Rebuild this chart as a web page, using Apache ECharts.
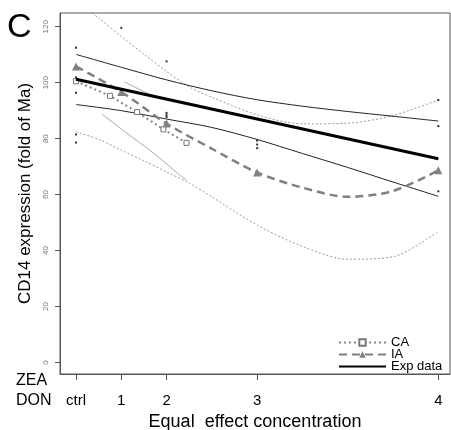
<!DOCTYPE html>
<html><head><meta charset="utf-8">
<script src="https://cdn.jsdelivr.net/npm/echarts@6/dist/echarts.min.js"></script>
<style>html,body{margin:0;padding:0;background:#fff}#c{width:451px;height:430px}</style>
</head><body><div id="c"></div>
<script>
// Axis ticks
const xTickValues = [0, 1, 2, 4, 8];
const xTickLabels = ['ctrl', '1', '2', '3', '4'];
const yTickValues = [0, 20, 40, 60, 80, 100, 120];

// Observed data points
const obsX = [0, 0, 0, 0, 0, 1, 2, 2, 2, 2, 4, 4, 4, 8, 8, 8];
const obsY = [112.5, 101.9, 96.4, 81.5, 78.6, 119.6, 107.6, 89.2, 88.4, 87.7, 79.3, 77.9, 76.6, 93.8, 84.5, 61.2];

// Exp data regression line and band
const expX = [0, 8];
const expY = [101.2, 72.8];
const bandX = [0, 1, 2, 3, 4, 5, 6, 7, 8];
const expUpperY = [110.1, 105.5, 101.0, 97.1, 93.9, 91.6, 89.7, 88.0, 86.3];
const expLowerY = [92.2, 90.0, 87.0, 84.0, 79.7, 74.7, 69.7, 64.5, 59.4];

// IA prediction
const iaX = [0, 1, 2, 3, 4, 5, 6, 7, 8];
const iaY = [105.8, 96.7, 85.4, 76.4, 67.9, 62.5, 59.2, 61.3, 68.7];
const iaMarkerX = [0, 1, 2, 4, 8];
const iaBandX = [0, 0.5, 1, 1.5, 2, 2.5, 3, 4, 5, 6, 7, 8];
const iaUpperY = [129.3, 123.1, 116.5, 110.2, 104.0, 98.5, 94.8, 88.5, 85.3, 85.5, 88.3, 93.8];
const iaLowerY = [82.4, 79.8, 75.9, 72.1, 68.1, 64.1, 59.2, 49.1, 41.5, 36.9, 37.8, 46.9];

// CA prediction
const caX = [0, 0.75, 1.35, 1.93, 2.44];
const caY = [100.5, 95.3, 89.5, 83.3, 78.5];
const caUpperX = [1.07, 1.4, 1.75, 2.1, 2.44];
const caUpperY = [100.3, 97.6, 95.0, 93.6, 92.4];
const caLowerX = [0.57, 1.03, 1.77, 2.29, 2.44];
const caLowerY = [88.8, 83.1, 74.1, 67.0, 65.2];

const F = '"Liberation Sans", Arial, sans-serif';
function pairs(xs, ys) { return xs.map((x, i) => [x, ys[i]]); }

const chart = echarts.init(document.getElementById('c'), null, {renderer: 'canvas'});

function band(data, color, type) {
  return {type: 'line', data: data, symbol: 'none', smooth: 0.3, silent: true, z: 2,
    lineStyle: {color: color, width: 1, type: type}};
}

chart.setOption({
  animation: false,
  grid: {left: 60, right: 1, top: 13, bottom: 56, show: true, borderColor: '#555', borderWidth: 1,
    backgroundColor: 'transparent', outerBoundsMode: 'none'},
  xAxis: {
    type: 'value', min: -0.353, max: 8.258,
    name: 'Equal  effect concentration', nameLocation: 'middle', nameGap: 37,
    nameTextStyle: {fontFamily: F, fontSize: 18, color: '#000'},
    axisLine: {show: true, onZero: false, lineStyle: {color: '#555'}},
    axisTick: {show: true, customValues: xTickValues, length: 6, lineStyle: {color: '#555'}},
    axisLabel: {customValues: xTickValues, formatter: v => xTickLabels[xTickValues.indexOf(v)],
      margin: 19, fontFamily: F, fontSize: 15, color: '#000'},
    splitLine: {show: false}
  },
  yAxis: {
    type: 'value', min: -4.1, max: 124.9,
    name: 'CD14 expression (fold of Ma)', nameLocation: 'middle', nameGap: 17,
    nameTextStyle: {fontFamily: F, fontSize: 17, color: '#000'},
    axisLine: {show: true, onZero: false, lineStyle: {color: '#555'}},
    axisTick: {show: true, customValues: yTickValues, length: 5, lineStyle: {color: '#555'}},
    axisLabel: {customValues: yTickValues, rotate: 90, margin: 10, fontFamily: F, fontSize: 8, color: '#777'},
    splitLine: {show: false}
  },
  legend: {
    data: ['CA', 'IA', {name: 'Exp data', itemStyle: {opacity: 0}}],
    orient: 'vertical', left: 338, top: 336, padding: 0,
    itemGap: -1, itemWidth: 47, itemHeight: 8,
    textStyle: {fontFamily: F, fontSize: 13, color: '#000', lineHeight: 12}
  },
  graphic: [
    {type: 'text', left: 7, top: 11, style: {text: 'C', font: '34px ' + F, fill: '#000'}},
    {type: 'text', left: 16, top: 373, style: {text: 'ZEA', font: '16px ' + F, fill: '#000'}},
    {type: 'text', left: 16, top: 393, style: {text: 'DON', font: '16px ' + F, fill: '#000'}}
  ],
  series: [
    band(pairs(iaBandX, iaUpperY), '#999', [2, 2]),
    band(pairs(iaBandX, iaLowerY), '#999', [2, 2]),
    band(pairs(caUpperX, caUpperY), '#aaa', 'solid'),
    band(pairs(caLowerX, caLowerY), '#aaa', 'solid'),
    band(pairs(bandX, expUpperY), '#222', 'solid'),
    band(pairs(bandX, expLowerY), '#222', 'solid'),
    {type: 'scatter', data: pairs(obsX, obsY), symbol: 'rect', symbolSize: 2,
      itemStyle: {color: '#000'}, silent: true, z: 3},
    {name: 'IA', type: 'line', smooth: 0.3, z: 4,
      data: iaX.map((x, i) => iaMarkerX.includes(x) ? [x, iaY[i]] : {value: [x, iaY[i]], symbol: 'none'}),
      symbol: 'triangle', symbolSize: 8, showAllSymbol: true,
      itemStyle: {color: '#808080'},
      lineStyle: {color: '#808080', width: 2.5, type: [8, 5]}},
    {name: 'CA', type: 'line', z: 5, data: pairs(caX, caY),
      symbol: 'rect', symbolSize: 5,
      itemStyle: {color: '#fff', borderColor: '#777', borderWidth: 1},
      lineStyle: {color: '#888', width: 2, type: [2, 3]}},
    {name: 'Exp data', type: 'line', z: 6, data: pairs(expX, expY), symbol: 'none',
      itemStyle: {color: '#000'},
      lineStyle: {color: '#000', width: 3}}
  ]
});
</script>
</body></html>
